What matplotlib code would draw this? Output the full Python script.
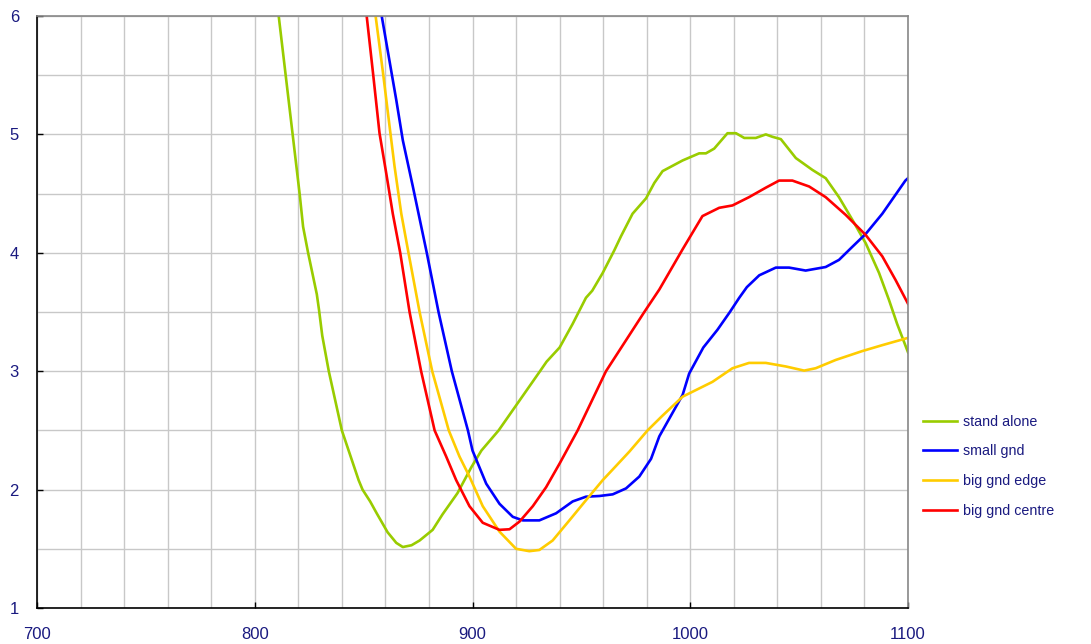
import matplotlib
matplotlib.use("Agg")
import matplotlib.pyplot as plt
from matplotlib.ticker import MultipleLocator

plt.rcParams['font.family'] = ['Liberation Sans', 'DejaVu Sans']

# ---- data ----
stand_x = [811, 817.4, 820.6, 822.2, 824.5, 828.5, 829.5, 831, 834, 840, 847.7, 849.5, 853, 856,
           861, 865, 868, 872, 875.7, 881.7, 886.2, 893.1, 899.5, 904.1, 912, 921.5, 931, 934, 940,
           946, 952.1, 955, 959.8, 965.1, 968.2, 973.5, 979.7, 983.5, 987.3, 996.5, 1004.1, 1007.2,
           1011, 1017.1, 1021, 1024.8, 1030.1, 1034.7, 1037.7, 1041.6, 1048.5, 1056.1, 1062.2,
           1068.3, 1074.4, 1080.6, 1086.7, 1091.3, 1095, 1100]
stand_y = [6.0, 5.0, 4.5, 4.22, 4.0, 3.65, 3.52, 3.3, 3.0, 2.5, 2.08, 2.0, 1.9, 1.8,
           1.64, 1.55, 1.515, 1.53, 1.57, 1.66, 1.79, 1.97, 2.19, 2.33, 2.5, 2.75, 3.0, 3.08, 3.2,
           3.4, 3.62, 3.68, 3.83, 4.02, 4.14, 4.33, 4.46, 4.59, 4.69, 4.78, 4.84, 4.84,
           4.88, 5.01, 5.01, 4.97, 4.97, 5.0, 4.98, 4.96, 4.80, 4.70, 4.63,
           4.47, 4.28, 4.08, 3.83, 3.60, 3.4, 3.16]

small_x = [858.3, 865, 868, 872.6, 879, 884.4, 890.5, 897.9, 900, 906.3, 912.4, 918.5, 923.1, 930.7,
           938.4, 946, 952.1, 958.3, 964.4, 970.5, 976.6, 982, 985.8, 991, 996.5, 999.5, 1006,
           1012.5, 1018.2, 1022.5, 1026, 1031.7, 1039.3, 1045.4, 1053, 1062.2, 1068.3, 1074.4,
           1080.6, 1088.2, 1098.8, 1100]
small_y = [6.0, 5.29, 4.95, 4.56, 4.0, 3.5, 3.0, 2.5, 2.33, 2.05, 1.88, 1.77, 1.74, 1.74,
           1.80, 1.90, 1.94, 1.946, 1.96, 2.01, 2.11, 2.26, 2.45, 2.62, 2.8, 2.98, 3.2,
           3.35, 3.5, 3.62, 3.71, 3.81, 3.875, 3.875, 3.85, 3.88, 3.94, 4.05,
           4.16, 4.33, 4.61, 4.63]

edge_x = [855.5, 858.9, 861.9, 864.2, 867.3, 870.6, 875.7, 881.5, 889.1, 894, 898.6, 904.7, 912.4,
          920, 926.1, 930.7, 936.8, 944.5, 952.1, 959.8, 964.4, 972, 980.4, 987, 996.5, 1010.2,
          1019.4, 1027, 1034.7, 1043.9, 1052.3, 1057.6, 1066.8, 1079, 1088.2, 1099.7]
edge_y = [6.0, 5.52, 5.07, 4.73, 4.33, 4.0, 3.5, 3.0, 2.5, 2.28, 2.11, 1.86, 1.645,
          1.50, 1.48, 1.49, 1.57, 1.74, 1.91, 2.08, 2.17, 2.32, 2.5, 2.62, 2.785, 2.91,
          3.025, 3.07, 3.07, 3.04, 3.005, 3.025, 3.095, 3.17, 3.22, 3.28]

centre_x = [851.4, 854.3, 857.3, 860.4, 863.4, 866.8, 871.1, 876.4, 882.6, 887.9, 892.5, 898.6,
            904.7, 912.4, 917, 921.6, 927.7, 933.8, 940, 948.3, 961.3, 978.9, 985.8, 996.5,
            1005.6, 1013.3, 1019.4, 1027, 1034.7, 1040.8, 1046.9, 1054.6, 1062.2, 1071.4,
            1080.6, 1088.2, 1094.3, 1100]
centre_y = [6.0, 5.52, 5.01, 4.67, 4.33, 4.0, 3.5, 3.0, 2.5, 2.28, 2.08, 1.86,
            1.72, 1.66, 1.665, 1.73, 1.86, 2.02, 2.22, 2.5, 3.0, 3.5, 3.69, 4.03,
            4.31, 4.38, 4.40, 4.47, 4.55, 4.61, 4.61, 4.56, 4.47, 4.32,
            4.15, 3.97, 3.77, 3.57]

labels = ["stand alone", "small gnd", "big gnd edge", "big gnd centre"]
colors = ["#99cc00", "#0000ff", "#ffcc00", "#ff0000"]

x_ticks = [700, 800, 900, 1000, 1100]
y_ticks = [1, 2, 3, 4, 5, 6]

# ---- figure ----
fig = plt.figure(figsize=(10.91, 6.44), dpi=100)
ax = fig.add_axes([37 / 1091, 36 / 644, 871 / 1091, 592 / 644])

series = [(stand_x, stand_y), (small_x, small_y), (edge_x, edge_y), (centre_x, centre_y)]
for (xs, ys), lab, col in zip(series, labels, colors):
    ax.plot(xs, ys, color=col, lw=1.9, label=lab, solid_joinstyle='round')

ax.set_xlim(700, 1100)
ax.set_ylim(1, 6)
ax.set_xticks(x_ticks)
ax.set_yticks(y_ticks)
ax.xaxis.set_minor_locator(MultipleLocator(20))
ax.yaxis.set_minor_locator(MultipleLocator(0.5))
ax.grid(which='both', color='#c8c8c8', lw=1.0)
ax.set_axisbelow(True)

navy = '#1a1a80'
ax.tick_params(axis='both', which='major', direction='in', length=4, width=1,
               color='black', labelcolor=navy, labelsize=12)
ax.tick_params(axis='x', which='major', pad=14)
ax.tick_params(axis='y', which='major', pad=13)
ax.tick_params(axis='both', which='minor', length=0)

ax.spines['left'].set_color('black')
ax.spines['bottom'].set_color('black')
ax.spines['top'].set_color('#888888')
ax.spines['right'].set_color('#888888')
for s in ax.spines.values():
    s.set_linewidth(1.2)

leg = fig.legend(loc='center left', bbox_to_anchor=(0.846, 0.276), frameon=False,
                 fontsize=10.3, handlelength=2.35, handletextpad=0.45, labelspacing=1.1,
                 borderpad=0, borderaxespad=0)
for t in leg.get_texts():
    t.set_color(navy)

fig.savefig("out.png", dpi=100)
